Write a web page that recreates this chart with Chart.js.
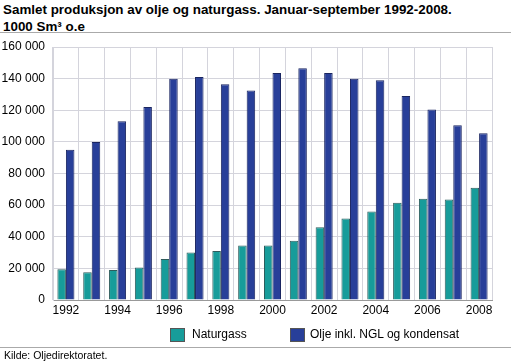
<!DOCTYPE html>
<html>
<head>
<meta charset="utf-8">
<script src="https://cdn.jsdelivr.net/npm/chart.js@4"></script>
<style>
  body { margin: 0; background: #fff; font-family: "Liberation Sans", Arial, sans-serif; }
  #wrap { position: relative; width: 511px; height: 364px; overflow: hidden; }
  #chart { position: absolute; left: 0; top: 0; }
  .title { position: absolute; left: 3px; top: 1px; font-weight: bold; font-size: 13.4px; line-height: 17px; color: #000; }
  .rule { position: absolute; left: 0; width: 511px; height: 1px; background: #aaa; }
  .legend { position: absolute; top: 327px; font-size: 12px; color: #000; }
  .legend span.box { position: absolute; top: 1px; width: 13px; height: 12px; border: 1px solid #555; }
  .source { position: absolute; left: 4px; top: 349px; font-size: 10.5px; color: #000; }
</style>
</head>
<body>
<div id="wrap">
  <div class="title">Samlet produksjon av olje og naturgass. Januar-september 1992-2008.<br>1000 Sm³ o.e</div>
  <div class="rule" style="top:32px"></div>
  <canvas id="chart" width="511" height="364"></canvas>
  <div class="legend" style="left:170px"><span class="box" style="left:0;background:#179c9a"></span><span style="position:absolute;left:22px;white-space:nowrap">Naturgass</span></div>
  <div class="legend" style="left:290px"><span class="box" style="left:0;background:#283f99"></span><span style="position:absolute;left:20px;white-space:nowrap">Olje inkl. NGL og kondensat</span></div>
  <div class="rule" style="top:347px"></div>
  <div class="source">Kilde: Oljedirektoratet.</div>
</div>
<script>
const years = ["1992", "1993", "1994", "1995", "1996", "1997", "1998", "1999", "2000",
               "2001", "2002", "2003", "2004", "2005", "2006", "2007", "2008"];
const naturgass = [19500, 17500, 19000, 20500, 26000, 30000, 31000, 34500, 34500,
                   37500, 46000, 51500, 56000, 61500, 64000, 63500, 71000];
const olje = [95000, 100000, 113000, 122000, 140000, 141000, 136500, 132500, 143500,
              146500, 143500, 140000, 139000, 129000, 120500, 110500, 105500];
const yTicks = [0, 20000, 40000, 60000, 80000, 100000, 120000, 140000, 160000];

const fmt = v => String(v).replace(/\B(?=(\d{3})+(?!\d))/g, " ");

new Chart(document.getElementById("chart"), {
  type: "bar",
  data: {
    labels: years,
    datasets: [
      {
        label: "Naturgass",
        data: naturgass,
        backgroundColor: "#179c9a",
        borderColor: "#2e5c5c",
        borderWidth: 1
      },
      {
        label: "Olje inkl. NGL og kondensat",
        data: olje,
        backgroundColor: "#283f99",
        borderColor: "#1a2560",
        borderWidth: 1
      }
    ]
  },
  options: {
    responsive: false,
    animation: false,
    layout: { padding: { left: 0, right: 19, top: 47, bottom: 44 } },
    datasets: { bar: { categoryPercentage: 0.66, barPercentage: 1.0 } },
    plugins: {
      legend: { display: false },
      tooltip: { enabled: false }
    },
    scales: {
      x: {
        grid: { color: "#d4d4dc", offset: true, drawTicks: false },
        border: { color: "#999" },
        ticks: {
          color: "#000",
          font: { family: "Liberation Sans", size: 12 },
          autoSkip: false,
          maxRotation: 0,
          padding: 3,
          callback: function (val, i) { return i % 2 === 0 ? years[i] : ""; }
        },
        afterFit: s => { s.height = 20; }
      },
      y: {
        min: 0,
        max: 160000,
        afterBuildTicks: s => { s.ticks = yTicks.map(v => ({ value: v })); },
        grid: { color: "#d4d4dc", drawTicks: false },
        border: { color: "#d4d4dc" },
        ticks: {
          color: "#000",
          font: { family: "Liberation Sans", size: 12 },
          padding: 8,
          callback: v => fmt(v)
        },
        afterFit: s => { s.width = 53; }
      }
    }
  }
});
</script>
</body>
</html>
